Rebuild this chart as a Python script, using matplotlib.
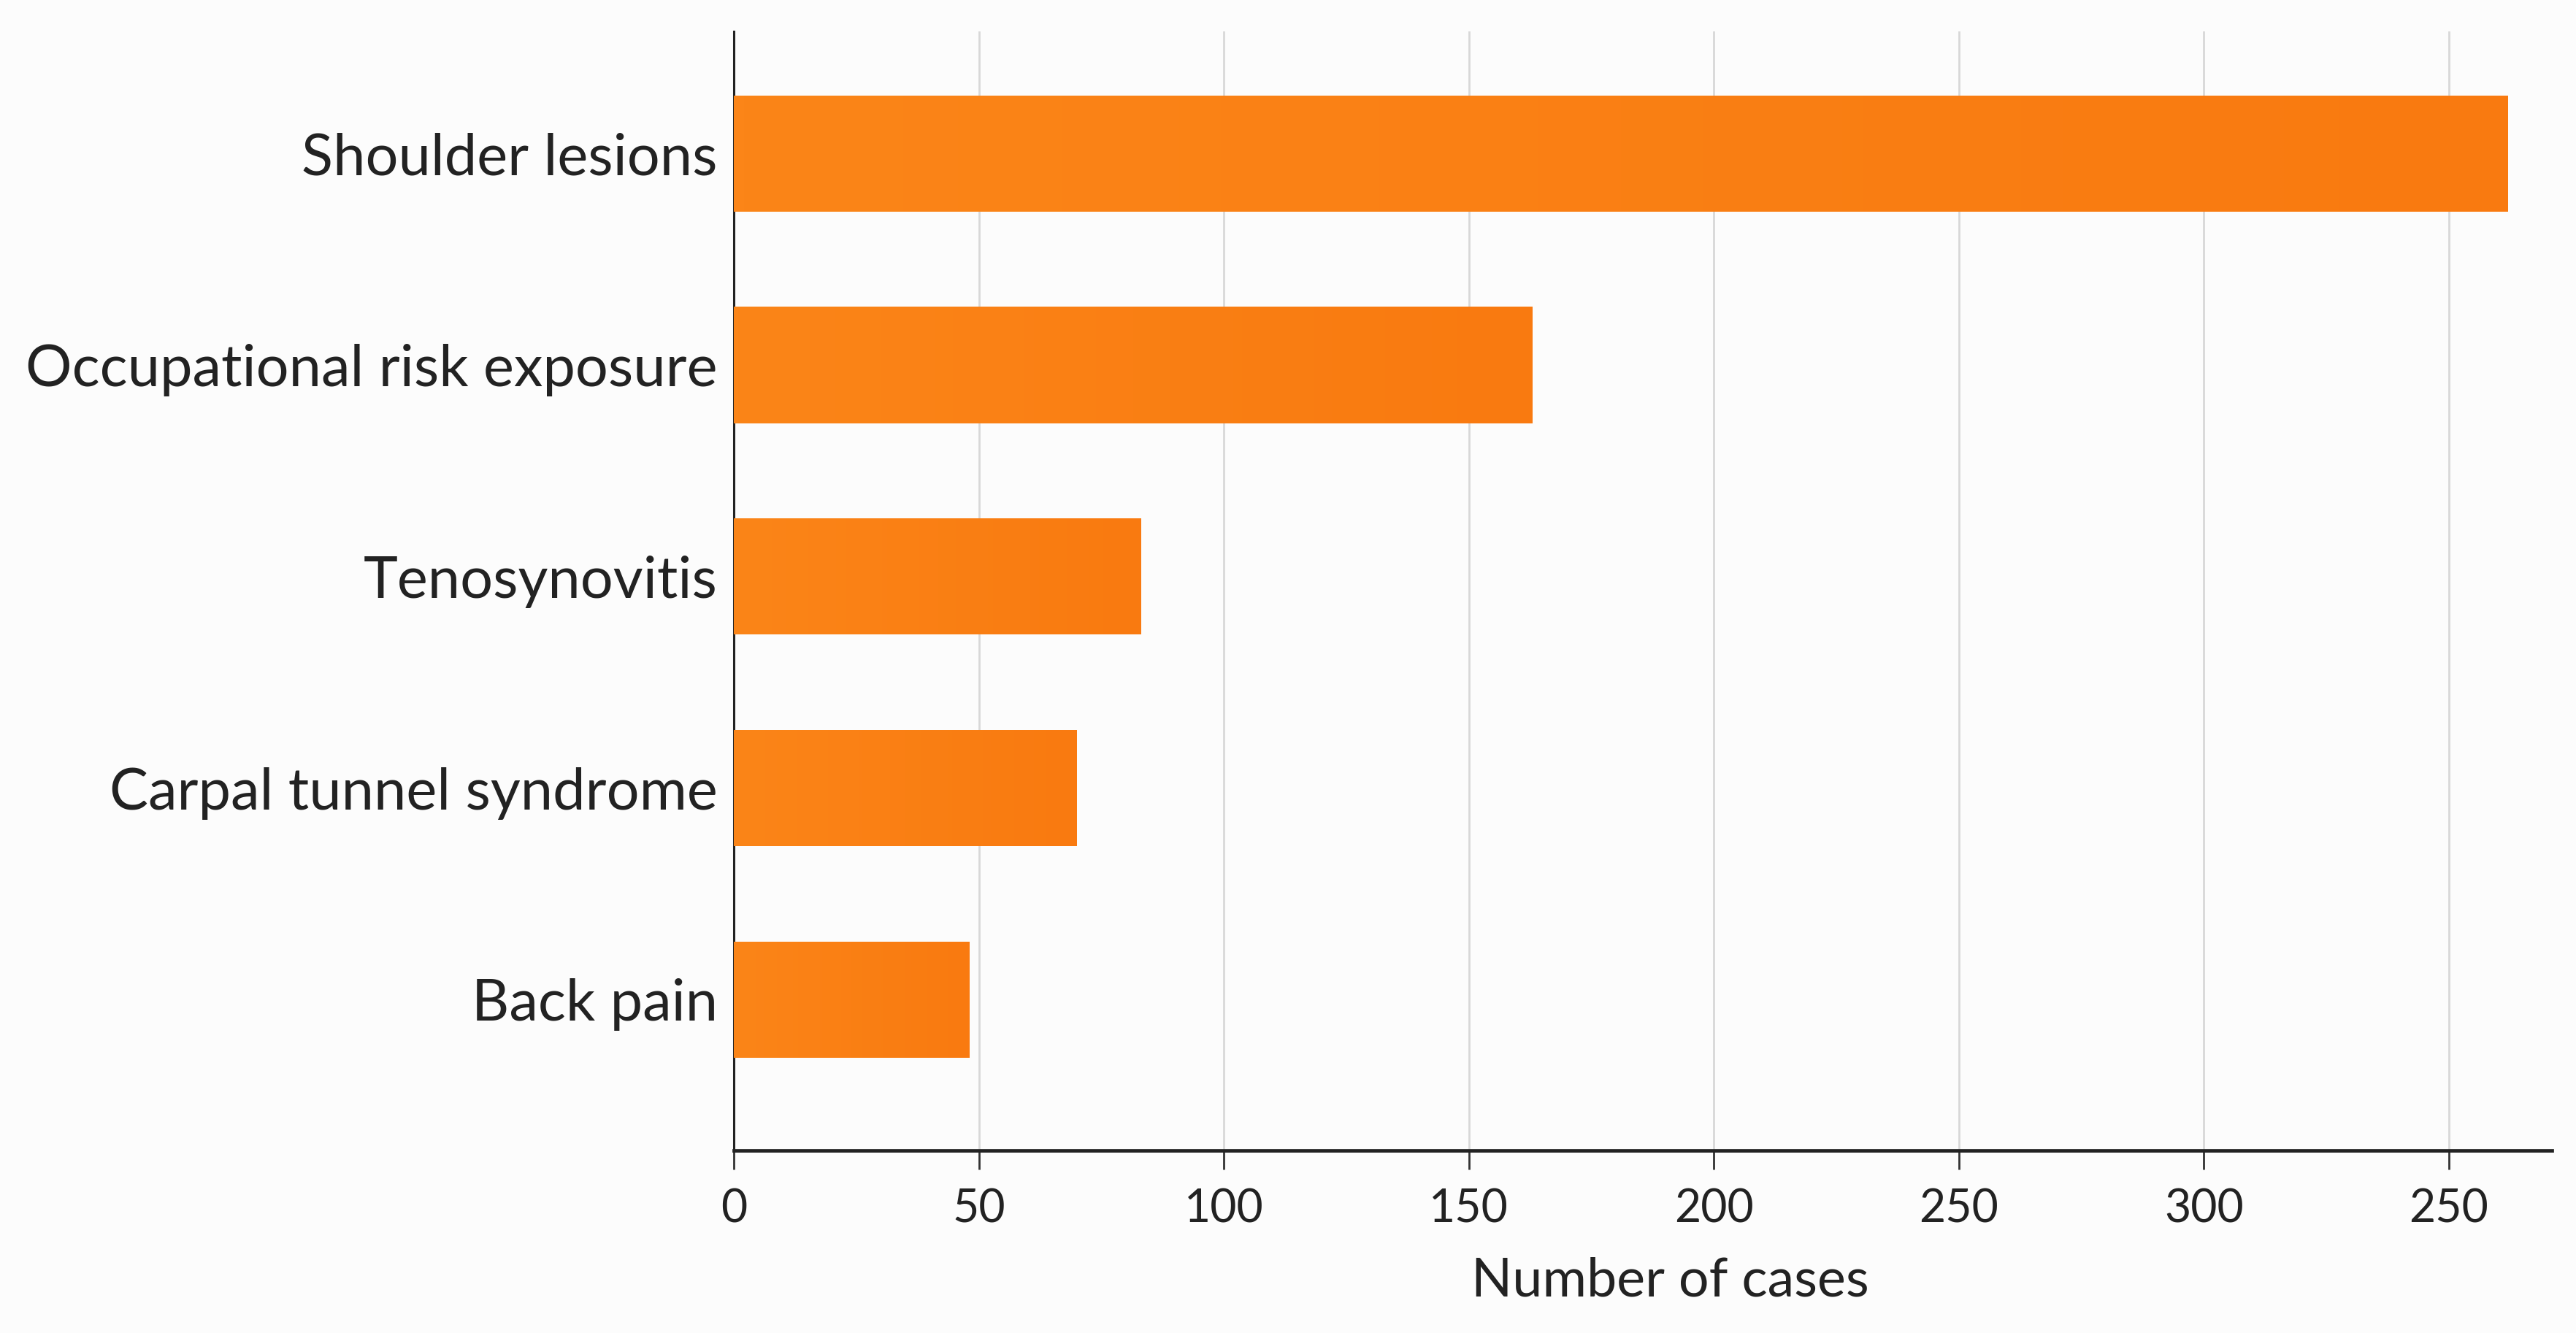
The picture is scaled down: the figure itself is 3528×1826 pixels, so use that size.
import matplotlib
matplotlib.use("Agg")
import matplotlib.pyplot as plt
import numpy as np
from matplotlib.colors import LinearSegmentedColormap

# ---- data ----
categories = ["Shoulder lesions", "Occupational risk exposure", "Tenosynovitis",
              "Carpal tunnel syndrome", "Back pain"]
cases = [362, 163, 83, 70, 48]
xtick_values = [0, 50, 100, 150, 200, 250, 300, 350]
xtick_labels = ["0", "50", "100", "150", "200", "250", "300", "250"]
x_label = "Number of cases"

plt.rcParams['font.family'] = ['Lato', 'DejaVu Sans']

W, H, DPI = 3528, 1826, 200
fig = plt.figure(figsize=(W / DPI, H / DPI), dpi=DPI)
bg = "#FCFCFC"
fig.patch.set_facecolor(bg)

ax = fig.add_axes([1005 / W, 250 / H, (3495 - 1005) / W, (1783 - 250) / H])
ax.set_facecolor(bg)

y = np.arange(len(categories))
bars = ax.barh(y, cases, height=0.55, color="#FB7E14", zorder=2, linewidth=0)

# very subtle horizontal gradient on each bar
cmap = LinearSegmentedColormap.from_list("og", ["#FB8518", "#F97A10"])
grad = np.linspace(0, 1, 256).reshape(1, -1)
for b in bars:
    x0, y0 = b.get_x(), b.get_y()
    w, h = b.get_width(), b.get_height()
    im = ax.imshow(grad, cmap=cmap, aspect="auto", extent=(x0, x0 + w, y0 + h, y0),
                   zorder=3, interpolation="bicubic")
    im.set_clip_path(b)

ax.set_xlim(0, 371)
ax.set_ylim(4.713, -0.577)

ax.set_yticks(y)
ax.set_yticklabels(categories, fontsize=28.6, color="#222222")
ax.tick_params(axis="y", length=0, pad=8)

ax.set_xticks(xtick_values)
ax.set_xticklabels(xtick_labels, fontsize=22.5, color="#222222")
ax.tick_params(axis="x", length=9.5, width=1.0, color="#333333", pad=9)

ax.set_xlabel(x_label, fontsize=26.5, color="#222222", labelpad=12)
ax.xaxis.set_label_coords(0.515, -0.095)

ax.grid(axis="x", color="#D8D8D8", linewidth=1.0, zorder=0)
ax.set_axisbelow(True)

for s in ["top", "right"]:
    ax.spines[s].set_visible(False)
ax.spines["left"].set_color("#222222")
ax.spines["left"].set_linewidth(1.1)
ax.spines["bottom"].set_color("#222222")
ax.spines["bottom"].set_linewidth(1.7)

fig.savefig("out.png", dpi=DPI, facecolor=bg)
